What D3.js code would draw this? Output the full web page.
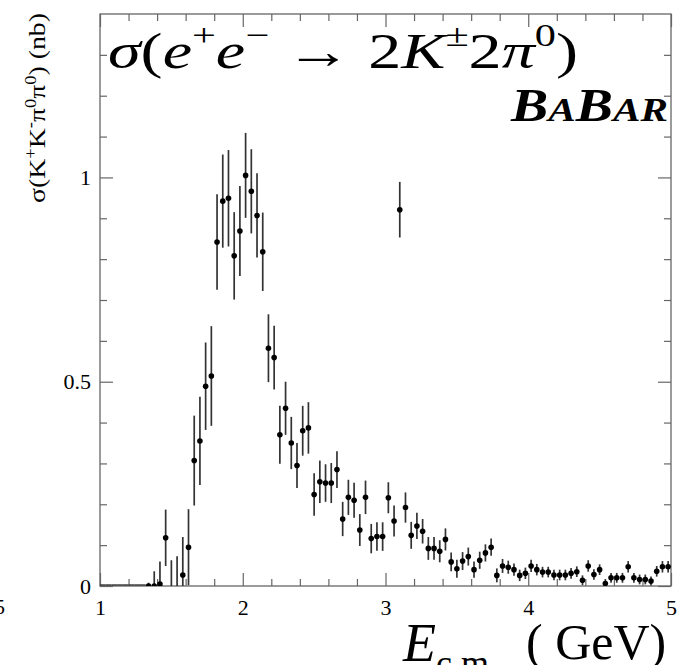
<!DOCTYPE html>
<html><head><meta charset="utf-8">
<script src="https://cdn.jsdelivr.net/npm/d3@7"></script>
<style>
html,body{margin:0;padding:0;background:#fff;}
svg{display:block;}
text{font-family:"Liberation Serif","Times New Roman",serif;}
</style></head>
<body>
<svg id="chart" width="679" height="665"></svg>
<script>
// ---- data ----
const energies = [1.02,1.06,1.10,1.14,1.18,1.22,1.26,1.30,1.34,1.38,1.42,1.46,1.50,1.54,1.58,1.62,1.66,1.70,1.74,1.78,
1.82,1.86,1.90,1.94,1.98,2.02,2.06,2.10,2.14,2.18,2.22,2.26,2.30,2.34,2.38,2.42,2.46,2.50,2.54,2.58,
2.62,2.66,2.70,2.74,2.78,2.82,2.86,2.90,2.94,2.98,3.02,3.06,3.10,3.14,3.18,3.22,3.26,3.30,3.34,3.38,
3.42,3.46,3.50,3.54,3.58,3.62,3.66,3.70,3.74,3.78,3.82,3.86,3.90,3.94,3.98,4.02,4.06,4.10,4.14,4.18,
4.22,4.26,4.30,4.34,4.38,4.42,4.46,4.50,4.54,4.58,4.62,4.66,4.70,4.74,4.78,4.82,4.86,4.90,4.94,4.98];
const xsec = [0,0,0,0,0,0,0,0,0.0,0.0,0.005,0.118,-0.02,-0.02,0.027,0.095,0.307,0.355,0.489,0.514,
0.842,0.942,0.949,0.808,0.869,1.005,0.966,0.907,0.818,0.582,0.559,0.370,0.435,0.350,0.295,0.380,0.387,0.224,0.255,0.252,
0.252,0.285,0.164,0.217,0.210,0.137,0.217,0.116,0.121,0.121,0.216,0.159,0.921,0.192,0.124,0.147,0.134,0.092,0.092,0.085,
0.114,0.059,0.042,0.061,0.072,0.040,0.063,0.081,0.095,0.026,0.049,0.046,0.040,0.026,0.031,0.049,0.040,0.034,0.034,0.027,
0.027,0.027,0.031,0.035,0.014,0.049,0.028,0.040,0.006,0.020,0.020,0.020,0.047,0.020,0.016,0.016,0.012,0.036,0.047,0.047];
const xsecErr = [0,0,0,0,0,0,0,0,0.008,0.036,0.055,0.069,0.083,0.093,0.093,0.093,0.110,0.108,0.107,0.122,
0.117,0.114,0.118,0.107,0.110,0.104,0.103,0.103,0.096,0.083,0.078,0.071,0.065,0.064,0.055,0.061,0.063,0.052,0.052,0.046,
0.049,0.045,0.042,0.043,0.043,0.039,0.041,0.036,0.035,0.035,0.038,0.038,0.068,0.037,0.033,0.032,0.030,0.028,0.028,0.027,
0.027,0.023,0.022,0.022,0.022,0.020,0.021,0.021,0.021,0.017,0.017,0.016,0.015,0.014,0.014,0.015,0.014,0.013,0.013,0.013,
0.013,0.013,0.013,0.013,0.012,0.014,0.013,0.013,0.011,0.012,0.012,0.012,0.014,0.012,0.012,0.012,0.011,0.013,0.014,0.014];
const binHalfWidth = 0.02;
const xMajorTicks = [1,2,3,4,5];
const xMinorTicks = [1.2,1.4,1.6,1.8,2.2,2.4,2.6,2.8,3.2,3.4,3.6,3.8,4.2,4.4,4.6,4.8];
const yMajorTicks = [0,0.5,1];
const yMajorLabels = ["0","0.5","1"];
const yMinorTicks = [0.1,0.2,0.3,0.4,0.6,0.7,0.8,0.9,1.1,1.2,1.3];
const xDomain = [1,5];
const yDomain = [0,1.4];

// ---- drawing ----
const svg = d3.select("#chart");
svg.append("rect").attr("width",679).attr("height",665).attr("fill","#fff");
const L=100,R=671,T=14,B=586;
const x = d3.scaleLinear().domain(xDomain).range([L,R]);
const y = d3.scaleLinear().domain(yDomain).range([B,T]);
const axisCol = "#666";

function styleAxis(g){
  g.select(".domain").remove();
  g.selectAll(".tick line").attr("stroke",axisCol).attr("stroke-width",1.2);
  g.selectAll(".tick text").attr("fill","#000").attr("font-size",22)
    .attr("font-family","'Liberation Serif',serif");
}
// bottom
svg.append("g").attr("transform",`translate(0,${B})`)
  .call(d3.axisBottom(x).tickValues(xMajorTicks).tickSize(-13).tickPadding(13).tickFormat(d3.format("d"))).call(styleAxis);
svg.append("g").attr("transform",`translate(0,${B})`)
  .call(d3.axisBottom(x).tickValues(xMinorTicks).tickSize(-7).tickFormat("")).call(styleAxis);
// top
svg.append("g").attr("transform",`translate(0,${T})`)
  .call(d3.axisTop(x).tickValues(xMajorTicks).tickSize(-13).tickFormat("")).call(styleAxis);
svg.append("g").attr("transform",`translate(0,${T})`)
  .call(d3.axisTop(x).tickValues(xMinorTicks).tickSize(-7).tickFormat("")).call(styleAxis);
// left
svg.append("g").attr("transform",`translate(${L},0)`)
  .call(d3.axisLeft(y).tickValues(yMajorTicks).tickSize(-13).tickPadding(9)
    .tickFormat((d,i)=>yMajorLabels[i])).call(styleAxis);
svg.append("g").attr("transform",`translate(${L},0)`)
  .call(d3.axisLeft(y).tickValues(yMinorTicks).tickSize(-7).tickFormat("")).call(styleAxis);
// right
svg.append("g").attr("transform",`translate(${R},0)`)
  .call(d3.axisRight(y).tickValues(yMajorTicks).tickSize(-13).tickFormat("")).call(styleAxis);
svg.append("g").attr("transform",`translate(${R},0)`)
  .call(d3.axisRight(y).tickValues(yMinorTicks).tickSize(-7).tickFormat("")).call(styleAxis);

// frame
svg.append("rect").attr("x",L).attr("y",T).attr("width",R-L).attr("height",B-T)
  .attr("fill","none").attr("stroke",axisCol).attr("stroke-width",1.3);

// clip
svg.append("clipPath").attr("id","clip").append("rect")
  .attr("x",L).attr("y",T).attr("width",R-L).attr("height",B-T);
const data = energies.map((e,i)=>({e, v:xsec[i], err:xsecErr[i]}));
const plot = svg.append("g").attr("clip-path","url(#clip)");

// zero-error bins: horizontal segment over the bin
plot.selectAll("line.flat").data(data.filter(d=>d.err===0)).join("line")
  .attr("class","flat")
  .attr("x1",d=>x(d.e-binHalfWidth)).attr("x2",d=>x(d.e+binHalfWidth))
  .attr("y1",d=>y(d.v)-1).attr("y2",d=>y(d.v)-1)
  .attr("stroke","#333").attr("stroke-width",1.4);

const pts = data.filter(d=>d.err>0);
plot.selectAll("line.err").data(pts).join("line")
  .attr("class","err")
  .attr("x1",d=>x(d.e)).attr("x2",d=>x(d.e))
  .attr("y1",d=>y(d.v-d.err)).attr("y2",d=>y(d.v+d.err))
  .attr("stroke","#333").attr("stroke-width",1.7);
plot.selectAll("circle").data(pts).join("circle")
  .attr("cx",d=>x(d.e)).attr("cy",d=>y(d.v)).attr("r",2.8).attr("fill","#000");

// y title
const yt = svg.append("text")
  .attr("transform","translate(45,203) rotate(-90)")
  .attr("font-size",24).attr("text-anchor","start")
  .attr("textLength",190).attr("lengthAdjust","spacingAndGlyphs");
yt.append("tspan").text("σ(K");
yt.append("tspan").attr("dy",-9).attr("font-size",16).text("+");
yt.append("tspan").attr("dy",9).text("K");
yt.append("tspan").attr("dy",-9).attr("font-size",16).text("-");
yt.append("tspan").attr("dy",9).text("π");
yt.append("tspan").attr("dy",-9).attr("font-size",16).text("0");
yt.append("tspan").attr("dy",9).text("π");
yt.append("tspan").attr("dy",-9).attr("font-size",16).text("0");
yt.append("tspan").attr("dy",9).text(") (nb)");

// title
const tt = svg.append("text").attr("x",108).attr("y",68).attr("font-size",50)
  .attr("textLength",470).attr("lengthAdjust","spacingAndGlyphs");
tt.append("tspan").attr("font-style","italic").text("σ");
tt.append("tspan").text("(");
tt.append("tspan").attr("font-style","italic").text("e");
tt.append("tspan").attr("dy",-22).attr("font-size",32).text("+");
tt.append("tspan").attr("dy",22).attr("font-style","italic").text("e");
tt.append("tspan").attr("dy",-22).attr("font-size",32).text("−");
tt.append("tspan").attr("dy",22).text(" → 2");
tt.append("tspan").attr("font-style","italic").text("K");
tt.append("tspan").attr("dy",-22).attr("font-size",32).text("±");
tt.append("tspan").attr("dy",22).text("2");
tt.append("tspan").attr("font-style","italic").text("π");
tt.append("tspan").attr("dy",-22).attr("font-size",32).text("0");
tt.append("tspan").attr("dy",22).text(")");

// BaBar logo
const bb = svg.append("text").attr("x",511).attr("y",121).attr("font-size",46)
  .attr("font-weight","bold").attr("font-style","italic")
  .attr("textLength",157).attr("lengthAdjust","spacingAndGlyphs");
bb.append("tspan").text("B");
bb.append("tspan").attr("font-size",34).text("A");
bb.append("tspan").text("B");
bb.append("tspan").attr("font-size",34).text("AR");

// x title
const xt = svg.append("text").attr("x",403).attr("y",661).attr("font-size",54);
xt.append("tspan").attr("font-style","italic").text("E");
xt.append("tspan").attr("dy",14).attr("font-size",36).text("c.m.");
svg.append("text").attr("x",526).attr("y",659).attr("font-size",50).text("( GeV)");

// stray label from neighbouring panel
svg.append("text").attr("x",5).attr("y",614).attr("font-size",21).attr("text-anchor","end").text("5");
</script>
</body></html>
